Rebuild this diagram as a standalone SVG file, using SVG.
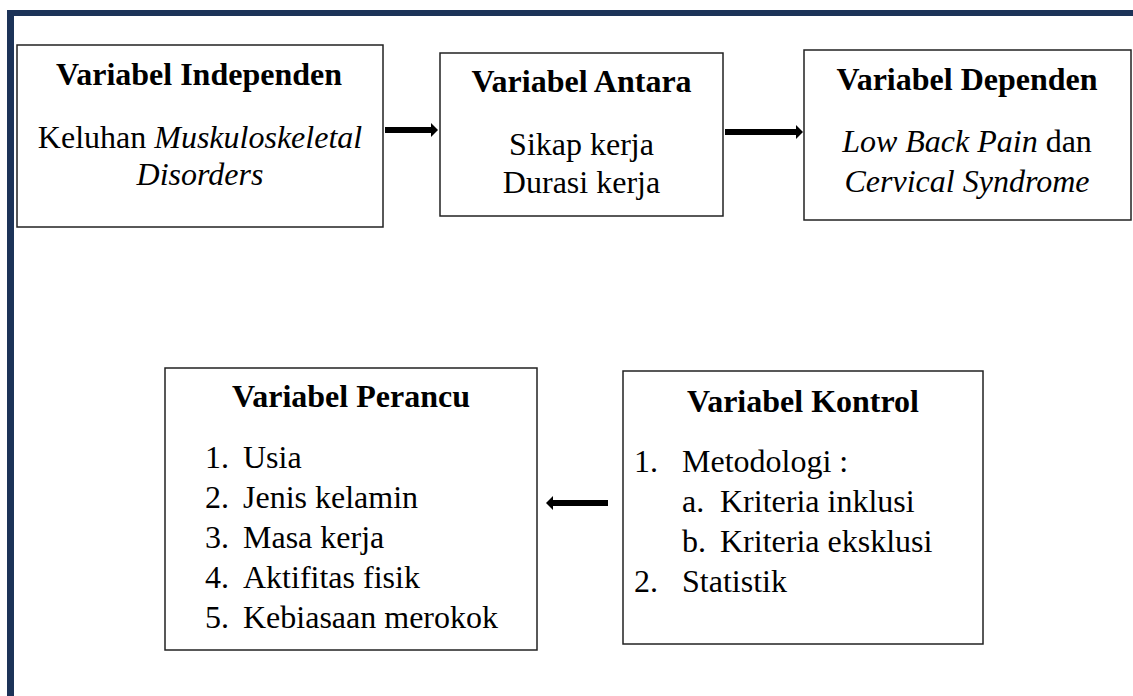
<svg xmlns="http://www.w3.org/2000/svg" width="1133" height="696" viewBox="0 0 1133 696">
<style>
.box{fill:#fff;stroke:#222;stroke-width:1.5}
.t{font-family:"Liberation Serif","Times New Roman",serif;font-size:32px;fill:#000}
.b{font-weight:bold}
.c{text-anchor:middle}
.i{font-style:italic}
.sh{stroke:#000;stroke-width:6;fill:none}
</style>
<rect id="border-top" x="7" y="10" width="1126" height="6" fill="#1c3358"/>
<rect id="border-left" x="7" y="10" width="7" height="686" fill="#1c3358"/>
<g id="independen">
<rect class="box" x="17" y="45" width="366" height="182"/>
<text class="t b c" x="199" y="85">Variabel Independen</text>
<text class="t c" x="200" y="148">Keluhan <tspan class="i">Muskuloskeletal</tspan></text>
<text class="t c i" x="200" y="185">Disorders</text>
</g>
<g id="antara">
<rect class="box" x="440" y="53" width="283" height="163"/>
<text class="t b c" x="581.5" y="92">Variabel Antara</text>
<text class="t c" x="581.5" y="155">Sikap kerja</text>
<text class="t c" x="581.5" y="193">Durasi kerja</text>
</g>
<g id="dependen">
<rect class="box" x="804" y="50" width="327" height="170"/>
<text class="t b c" x="967" y="90">Variabel Dependen</text>
<text class="t c" x="967" y="152"><tspan class="i">Low Back Pain</tspan> dan</text>
<text class="t c i" x="967" y="192">Cervical Syndrome</text>
</g>
<g id="perancu">
<rect class="box" x="165" y="368" width="372" height="282"/>
<text class="t b c" x="351" y="407">Variabel Perancu</text>
<text class="t" x="205" y="468">1.</text><text class="t" x="243" y="468">Usia</text>
<text class="t" x="205" y="508">2.</text><text class="t" x="243" y="508">Jenis kelamin</text>
<text class="t" x="205" y="548">3.</text><text class="t" x="243" y="548">Masa kerja</text>
<text class="t" x="205" y="588">4.</text><text class="t" x="243" y="588">Aktifitas fisik</text>
<text class="t" x="205" y="628">5.</text><text class="t" x="243" y="628">Kebiasaan merokok</text>
</g>
<g id="kontrol">
<rect class="box" x="623" y="371" width="360" height="273"/>
<text class="t b c" x="803" y="412">Variabel Kontrol</text>
<text class="t" x="634" y="472">1.</text><text class="t" x="682" y="472">Metodologi :</text>
<text class="t" x="682" y="512">a.</text><text class="t" x="720" y="512">Kriteria inklusi</text>
<text class="t" x="682" y="552">b.</text><text class="t" x="720" y="552">Kriteria eksklusi</text>
<text class="t" x="634" y="592">2.</text><text class="t" x="682" y="592">Statistik</text>
</g>
<g id="connectors">
<line class="sh" x1="385" y1="130" x2="432" y2="130"/>
<polygon points="431,123 438,130 431,137" fill="#000"/>
<line class="sh" x1="725" y1="132" x2="797" y2="132"/>
<polygon points="796,125 803,132 796,139" fill="#000"/>
<line class="sh" x1="608" y1="503" x2="552" y2="503"/>
<polygon points="553,496 546,503 553,510" fill="#000"/>
</g>
</svg>
